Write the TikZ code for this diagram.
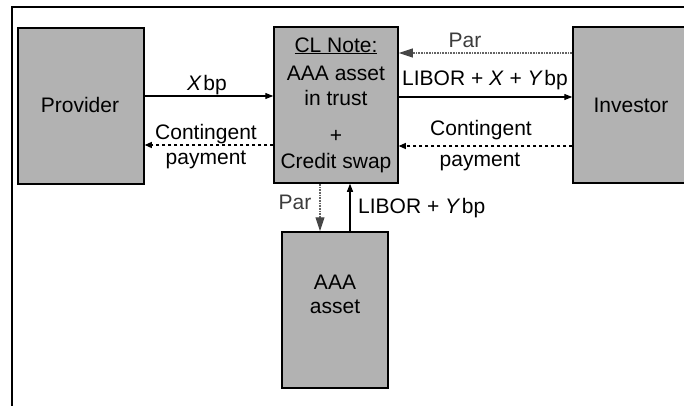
\documentclass[tikz,border=0pt]{standalone}
\usepackage{fontspec}
\setmainfont{Liberation Sans}
\usetikzlibrary{arrows.meta}
\definecolor{boxgray}{RGB}{178,178,178}
\definecolor{pargray}{RGB}{100,100,100}
\tikzset{
  box/.style={draw=black, line width=1.5pt, fill=boxgray, inner sep=0pt, minimum height=156pt},
  lbl/.style={anchor=base, inner sep=0pt, font=\fontsize{21}{25}\selectfont},
  arr/.style={line width=1.1pt, -{Triangle[length=8pt,width=6pt]}},
  darr/.style={line width=1.1pt, dash pattern=on 3.5pt off 2.5pt, -{Triangle[length=7pt,width=6pt]}},
  parr/.style={line width=1.1pt, draw=pargray, dash pattern=on 1pt off 0.6pt, -{Triangle[length=14pt,width=9pt,color=pargray!70!black]}},
}
\begin{document}
\begin{tikzpicture}[x=1pt,y=-1pt]
\useasboundingbox (0,0) rectangle (684,405);
\clip (0,0) rectangle (684,405);
% frame
\draw[line width=1.3pt] (12,410) -- (12,7) -- (690,7);
% boxes
\node[box, minimum width=126pt] (prov) at (81,106) {};
\node[box, minimum width=124pt] (cl) at (336,105) {};
\node[box, minimum width=120pt] (inv) at (633,105) {};
\node[box, minimum width=106pt] (aaa) at (335,310) {};
% box texts
\node[lbl] (tprov) at (80,112.5) {Provider};
\node[lbl] (tinv) at (631,112.5) {Investor};
\node[lbl] (tcl1) at (336,52) {\underline{CL Note:}};
\node[lbl] (tcl2) at (336,80) {AAA asset};
\node[lbl] (tcl3) at (336,105) {in trust};
\node[lbl] (tcl4) at (336,142) {+};
\node[lbl] (tcl5) at (336,168) {Credit swap};
\node[lbl] (taaa1) at (335,289) {AAA};
\node[lbl] (taaa2) at (335,313) {asset};
% connectors
\draw[arr] (prov.east |- 0,96) -- (cl.west |- 0,96);
\draw[darr] (cl.west |- 0,145) -- (prov.east |- 0,145);
\draw[parr] (inv.west |- 0,53) -- (cl.east |- 0,53);
\draw[arr] (cl.east |- 0,97) -- (inv.west |- 0,97);
\draw[darr] (inv.west |- 0,146) -- (cl.east |- 0,146);
\draw[parr] (cl.south -| 320,0) -- (aaa.north -| 320,0);
\draw[arr] (aaa.north -| 350,0) -- (cl.south -| 350,0);
% connector labels
\node[lbl] (lx) at (207,90) {\textit{X}\kern1.5pt bp};
\node[lbl] (lc1) at (206,139) {Contingent};
\node[lbl] (lp1) at (206,164) {payment};
\node[lbl, text=pargray!60!black] (lpar1) at (465,47) {Par};
\node[lbl] (llib) at (485,85) {LIBOR + \textit{X} + \textit{Y}\kern1.5pt bp};
\node[lbl] (lc2) at (481,135) {Contingent};
\node[lbl] (lp2) at (480,166) {payment};
\node[lbl, text=pargray!60!black] (lpar2) at (295,209) {Par};
\node[lbl, anchor=base west] (llib2) at (358,213) {LIBOR + \textit{Y}\kern1.5pt bp};
\end{tikzpicture}
\end{document}
